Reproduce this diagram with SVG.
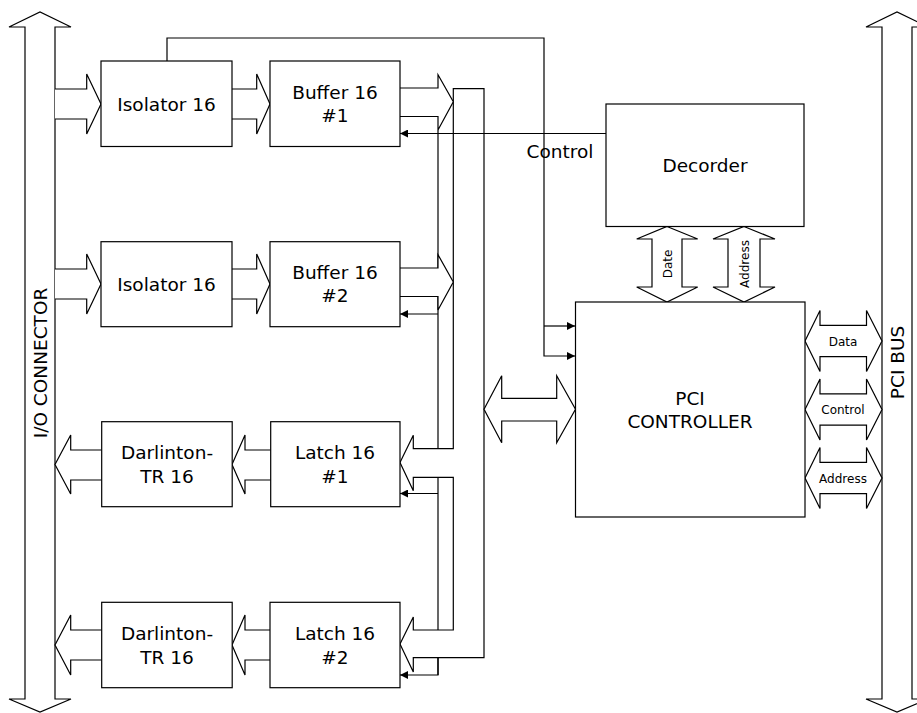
<svg xmlns="http://www.w3.org/2000/svg" width="917" height="713" viewBox="0 0 917 713">
<defs>
<marker id="ah" viewBox="0 0 8 8" refX="8" refY="4" markerWidth="8" markerHeight="8" markerUnits="userSpaceOnUse" orient="auto"><path d="M0,0 L8,4 L0,8 z" fill="#000"/></marker>
</defs>
<style>
.box{fill:#fff;stroke:#000;stroke-width:1.2}
.ln{fill:none;stroke:#000;stroke-width:1.2}
.arr{fill:#fff;stroke:#000;stroke-width:1.2;stroke-linejoin:miter}
text{font-family:"DejaVu Sans","Open Sans",sans-serif;fill:#000}
.t{font-size:18.5px;text-anchor:middle}
.s{font-size:12px;text-anchor:middle}
</style>
<rect x="0" y="0" width="917" height="713" fill="#fff"/>

<g id="io-connector">
<polygon class="arr" points="25,699 25,27 9,27 40,12 71,27 55,27 55,699 71,699 40,712 9,699"/>
<text class="t" transform="translate(47,363) rotate(-90)">I/O CONNECTOR</text>
</g>
<g id="pci-bus">
<polygon class="arr" points="882,699 882,27 866,27 897,12 928,27 912,27 912,699 928,699 897,712 866,699"/>
<text class="t" transform="translate(904,362.5) rotate(-90)">PCI BUS</text>
</g>

<g id="connectors">
<polyline class="ln" points="438,130 438,675"/>
<polygon class="arr" points="453.3,448.7 453.3,88.7 484,88.7 484,657.7 413.3,657.7 413.3,672 400,644 413.3,617 413.3,630 453.3,630 453.3,477.3 413.3,477.3 413.3,490.7 400,462.5 413.3,435.3 413.3,448.7"/>
<polyline class="arr" points="400,88 438,88 438,74.7 453.3,101.7 438,130 438,116.5 400,116.5"/>
<polyline class="arr" points="400,268 438,268 438,254.7 453.3,282 438,310 438,296.5 400,296.5"/>
<polyline class="ln" points="606,133.5 400,133.5" marker-end="url(#ah)"/>
<polyline class="ln" points="438,314 400,314" marker-end="url(#ah)"/>
<polyline class="ln" points="438,493.5 400,493.5" marker-end="url(#ah)"/>
<polyline class="ln" points="438,657.7 438,675 400,675" marker-end="url(#ah)"/>
<polyline class="ln" points="167,61 167,38 544,38 544,356 575,356" marker-end="url(#ah)"/>
<polyline class="ln" points="544,326 575,326" marker-end="url(#ah)"/>
<polyline class="arr" points="55,89 86.7,89 86.7,74 101,104 86.7,134 86.7,119 55,119"/>
<polyline class="arr" points="55,269 86.7,269 86.7,254 101,284 86.7,314 86.7,299 55,299"/>
<polyline class="arr" points="232,89 256.7,89 256.7,74 270,104 256.7,134 256.7,119 232,119"/>
<polyline class="arr" points="232,269 256.7,269 256.7,254 270,284 256.7,314 256.7,299 232,299"/>
<polyline class="arr" points="270.7,450 245,450 245,435 232,464.5 245,494 245,480 270.7,480"/>
<polyline class="arr" points="270,630 245,630 245,615 232,645 245,675 245,660 270,660"/>
<polyline class="arr" points="101.7,450 70.7,450 70.7,435 55,464.5 70.7,494 70.7,480 101.7,480"/>
<polyline class="arr" points="101.7,630 70.7,630 70.7,615 55,645 70.7,675 70.7,660 101.7,660"/>
<polygon class="arr" points="484,409.3 501.7,375.7 501.7,398.3 556.7,398.3 556.7,375.7 575.5,409.3 556.7,442.7 556.7,421 501.7,421 501.7,442.7"/>
<polygon class="arr" points="667,226.5 697.7,239 682,239 682,287 697.7,287 667,302 636.7,287 652,287 652,239 636.7,239"/>
<polygon class="arr" points="744,226.5 775,239 760,239 760,287 775,287 744,302 713,287 728,287 728,239 713,239"/>
<polygon class="arr" points="805,341 820,310.5 820,325.3 866.5,325.3 866.5,310.5 882,341 866.5,371.5 866.5,356.7 820,356.7 820,371.5"/>
<polygon class="arr" points="805,409.5 820,379 820,393.8 866.5,393.8 866.5,379 882,409.5 866.5,440 866.5,425.2 820,425.2 820,440"/>
<polygon class="arr" points="805,478 820,447.5 820,462.3 866.5,462.3 866.5,447.5 882,478 866.5,508.5 866.5,493.7 820,493.7 820,508.5"/>
<text class="t" x="560" y="158">Control</text>
<text class="s" transform="translate(671.5,264) rotate(-90)">Date</text>
<text class="s" transform="translate(748.5,264) rotate(-90)">Address</text>
<text class="s" x="843" y="345.5">Data</text>
<text class="s" x="843" y="414">Control</text>
<text class="s" x="843" y="482.5">Address</text>
</g>

<g id="isolator1"><rect class="box" x="101" y="61" width="131" height="85.5"/><text class="t" x="166.5" y="111">Isolator 16</text></g>
<g id="buffer1"><rect class="box" x="270" y="61" width="130" height="85.5"/><text class="t" x="335" y="99">Buffer 16<tspan x="335" dy="23">#1</tspan></text></g>
<g id="isolator2"><rect class="box" x="101" y="241.7" width="131" height="85"/><text class="t" x="166.5" y="291">Isolator 16</text></g>
<g id="buffer2"><rect class="box" x="270" y="241.7" width="130" height="85"/><text class="t" x="335" y="279">Buffer 16<tspan x="335" dy="23">#2</tspan></text></g>
<g id="darlington1"><rect class="box" x="101.7" y="421.7" width="130.5" height="85"/><text class="t" x="167" y="459">Darlinton-<tspan x="167" dy="24">TR 16</tspan></text></g>
<g id="latch1"><rect class="box" x="270.7" y="421.7" width="129.3" height="85"/><text class="t" x="335" y="459">Latch 16<tspan x="335" dy="24">#1</tspan></text></g>
<g id="darlington2"><rect class="box" x="101.7" y="602.3" width="130.5" height="85.4"/><text class="t" x="167" y="640">Darlinton-<tspan x="167" dy="24">TR 16</tspan></text></g>
<g id="latch2"><rect class="box" x="270" y="602.3" width="130" height="85.4"/><text class="t" x="335" y="640">Latch 16<tspan x="335" dy="24">#2</tspan></text></g>
<g id="decoder"><rect class="box" x="606" y="104" width="198" height="122.5"/><text class="t" x="705" y="172">Decorder</text></g>
<g id="pci-controller"><rect class="box" x="575.5" y="302" width="229.5" height="215"/><text class="t" x="690" y="405">PCI<tspan x="690" dy="23">CONTROLLER</tspan></text></g>
</svg>
